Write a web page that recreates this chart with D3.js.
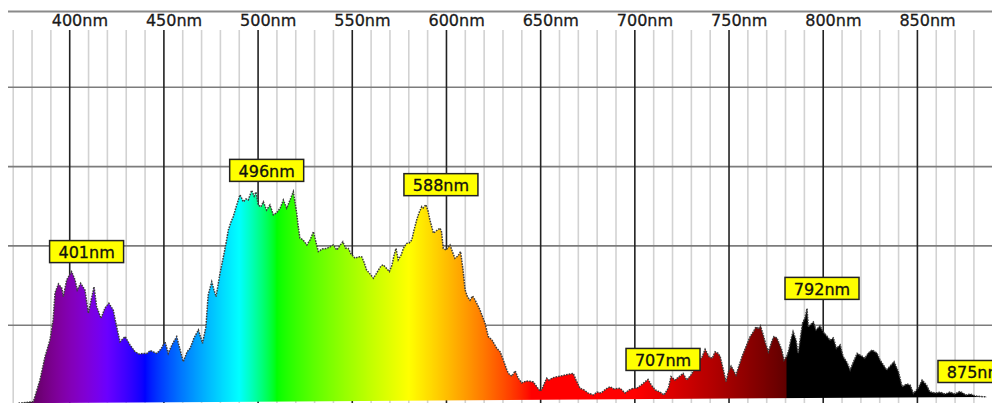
<!DOCTYPE html>
<html><head><meta charset="utf-8">
<script src="https://cdn.jsdelivr.net/npm/d3@7"></script>
<style>html,body{margin:0;padding:0;background:#fff;overflow:hidden}svg{display:block}</style>
</head><body>
<svg id="c" width="992" height="403"></svg>
<script>
// ---- data ----
const wavelengths = [372.8,380.7,384.2,386.9,389.5,391.2,392.2,394.0,395.8,396.6,398.4,401.0,402.8,404.0,405.8,408.1,409.9,412.9,414.3,416.6,418.7,420.8,423.1,424.9,426.7,429.4,432.0,434.7,436.8,439.0,441.0,442.7,444.3,446.2,448.5,450.6,452.3,454.3,456.8,458.6,460.3,462.3,463.9,466.0,468.3,470.5,472.3,473.5,475.4,476.6,477.7,479.8,481.6,483.0,484.2,485.6,486.8,488.5,490.4,492.2,493.6,494.8,496.6,497.9,498.9,500.1,501.5,502.8,504.5,506.3,508.1,509.8,511.7,513.4,515.2,517.0,518.7,520.5,521.2,522.2,523.8,525.9,527.6,529.4,530.8,532.0,534.0,536.4,538.2,539.9,541.8,543.3,545.0,546.4,547.9,549.3,551.5,553.1,555.0,556.2,557.6,559.5,561.2,562.6,563.9,565.3,566.5,568.0,569.7,571.1,572.1,573.2,574.4,575.9,577.2,578.9,580.2,581.6,582.8,584.2,585.4,586.9,587.7,589.1,590.2,591.2,593.1,594.5,596.6,597.4,598.3,599.8,601.9,603.2,604.5,606.1,607.5,608.8,609.9,611.2,612.5,613.9,615.2,616.5,617.8,619.4,620.5,622.2,624.2,626.7,628.5,630.2,632.0,632.9,634.7,636.5,638.1,640.0,642.3,644.4,646.1,648.1,649.7,650.7,653.2,654.4,656.5,658.2,660.3,663.0,665.6,667.3,668.8,670.9,673.0,675.2,678.0,680.0,682.1,684.7,686.8,688.9,692.2,694.8,697.0,699.2,701.2,703.3,707.0,708.9,710.8,713.4,715.5,717.8,719.2,721.3,724.0,725.6,727.6,730.2,731.4,732.9,734.1,735.5,737.3,739.5,741.1,742.6,744.2,745.3,747.0,748.4,749.6,751.1,752.3,753.7,754.9,756.9,759.4,761.2,762.9,764.3,765.6,766.7,767.9,769.4,770.9,772.6,773.8,775.4,776.6,778.0,779.2,780.7,781.7,782.8,784.0,785.6,786.7,787.7,789.0,790.3,791.4,792.1,794.8,796.2,798.3,799.9,801.9,803.6,805.4,807.0,809.0,810.6,812.5,814.3,816.0,818.0,820.4,822.1,823.9,825.9,828.5,830.2,831.9,833.6,835.5,837.6,840.0,841.9,844.4,846.2,847.9,850.5,852.5,854.9,856.6,859.4,862.0,864.7,867.3,869.9,872.6,875.9,878.1,880.7,883.4,886.8,889.6];
const intensities = [0.4,0.9,7.7,15.1,20.3,26.6,35.2,38.0,36.7,34.0,39.3,41.9,39.3,36.1,38.2,36.1,28.8,37.1,30.8,27.2,30.4,31.9,29.8,24.5,19.8,21.4,18.8,16.6,15.9,16.1,16.1,17.0,16.6,16.1,17.5,19.8,16.1,18.8,21.4,17.2,13.5,16.6,17.7,21.0,23.5,19.3,24.5,34.5,38.7,36.1,34.0,41.4,46.6,50.9,55.0,57.5,59.2,62.6,66.1,63.9,64.8,64.5,67.5,65.7,67.0,62.9,62.3,63.9,61.3,62.9,59.8,60.4,61.9,64.5,61.9,64.5,67.1,60.3,56.6,52.5,51.9,50.3,51.9,54.5,50.9,48.2,49.0,49.2,49.7,50.3,48.7,50.0,51.3,49.3,49.2,47.5,46.1,46.5,46.6,44.9,42.4,41.1,39.8,41.1,42.4,43.7,44.0,43.0,41.9,44.0,46.8,49.2,45.6,47.1,49.3,50.8,50.9,51.9,55.0,58.2,60.4,62.4,62.0,63.0,61.0,58.2,54.0,54.7,55.6,54.4,49.2,48.7,50.3,48.1,46.1,46.8,48.2,42.4,36.1,33.9,32.9,34.2,32.9,31.4,29.8,27.3,25.6,21.4,20.3,17.7,16.6,14.0,11.0,9.8,8.9,10.6,8.3,6.8,7.4,7.3,7.1,5.5,4.2,4.9,8.3,7.7,8.4,8.7,8.9,9.3,9.6,9.8,7.7,5.1,4.6,3.6,3.0,3.9,3.6,4.9,5.6,4.9,5.1,3.6,4.6,5.1,5.2,6.1,7.9,6.0,4.6,3.9,3.0,5.2,8.8,7.7,9.0,9.8,7.7,9.6,10.9,12.8,14.0,14.7,17.4,15.0,14.6,16.6,16.1,15.1,10.9,7.2,10.2,12.1,10.9,9.3,11.5,15.1,18.8,21.4,22.9,24.5,23.8,24.8,22.5,19.3,16.6,19.7,21.4,21.0,19.3,17.2,14.0,15.3,17.2,20.3,23.0,20.3,16.1,20.3,25.6,27.3,30.3,24.5,26.0,23.5,24.8,23.0,21.6,20.3,21.0,17.7,18.8,15.1,13.4,10.9,13.4,16.1,15.3,14.6,16.2,17.2,16.2,14.0,12.5,10.9,12.1,13.5,10.2,5.6,6.5,6.1,3.5,5.2,7.7,6.1,4.0,3.6,3.9,3.3,3.9,3.3,4.1,3.0,3.3,2.7,2.5,2.4];
const majorTicks = [400,450,500,550,600,650,700,750,800,850];
const minorTicks = [370,380,390,410,420,430,440,460,470,480,490,510,520,530,540,560,570,580,590,610,620,630,640,660,670,680,690,710,720,730,740,760,770,780,790,810,820,830,840,860,870,880];
const gridValues = [25,50,75,100];
const peakLabels = [401,496,588,707,792,875];

// ---- layout ----
const W = 992, H = 403;
const svg = d3.select("#c");
const d0 = 367.24, d1 = 889.6;
const x = d3.scaleLinear().domain([d0, d1]).range([8, 992]);
const y = d3.scaleLinear().domain([0, 125]).range([404.5, 8]);

// spectrum colour (wavelength -> RGB)
function wl2rgb(w){
  if (w < 380 || w > 780) return "rgb(0,0,0)";
  let r=0,g=0,b=0;
  if (w < 440){ r = -(w-440)/60; b = 1; }
  else if (w < 490){ g = (w-440)/50; b = 1; }
  else if (w < 510){ g = 1; b = -(w-510)/20; }
  else if (w < 580){ r = (w-510)/70; g = 1; }
  else if (w < 645){ r = 1; g = -(w-645)/65; }
  else { r = 1; }
  let f = 1;
  if (w < 420) f = 0.3 + 0.7*(w-380)/40;
  else if (w > 700) f = 0.3 + 0.7*(780-w)/80;
  const c = v => v <= 0 ? 0 : Math.round(255*Math.pow(v*f, 0.8));
  return `rgb(${c(r)},${c(g)},${c(b)})`;
}
const defs = svg.append("defs");
const grad = defs.append("linearGradient").attr("id","spec")
  .attr("gradientUnits","userSpaceOnUse")
  .attr("x1", x(d0)).attr("x2", x(d1)).attr("y1",0).attr("y2",0);
for (let w = 367; w <= 890; w += 1){
  grad.append("stop").attr("offset", Math.max(0,Math.min(1,(w-d0)/(d1-d0))))
    .attr("stop-color", wl2rgb(w));
}

// grid
const gTop = 30;
svg.append("g").selectAll("line").data(minorTicks).join("line")
  .attr("x1", d=>x(d)).attr("x2", d=>x(d)).attr("y1", gTop).attr("y2", H+2)
  .attr("stroke","#d2d2d2").attr("stroke-width",1.6);
svg.append("g").selectAll("line").data(gridValues).join("line")
  .attr("x1", 8).attr("x2", W).attr("y1", d=>y(d)).attr("y2", d=>y(d))
  .attr("stroke","#7c7c7c").attr("stroke-width",1.6);
svg.append("g").selectAll("line").data(majorTicks).join("line")
  .attr("x1", d=>x(d)).attr("x2", d=>x(d)).attr("y1", gTop).attr("y2", H+2)
  .attr("stroke","#222").attr("stroke-width",1.6);
// top border
svg.append("line").attr("x1",8).attr("x2",W).attr("y1",11.5).attr("y2",11.5)
  .attr("stroke","#8a8a8a").attr("stroke-width",2);
// top labels
svg.append("g").selectAll("text").data(majorTicks).join("text")
  .attr("x", d=>x(d)-18).attr("y", 26.3)
  .attr("font-family","DejaVu Sans, Verdana, sans-serif").attr("font-size",16)
  .attr("fill","#1a1a1a").attr("stroke","#1a1a1a").attr("stroke-width",0.3)
  .text(d=>d+"nm");

// spectrum
const pts = wavelengths.map((w,i)=>({w, v:intensities[i]}));
const area = d3.area().x(d=>x(d.w)).y0(y(0)).y1(d=>y(d.v));
const line = d3.line().x(d=>x(d.w)).y(d=>y(d.v));
svg.append("path").datum(pts).attr("d", area).attr("fill","url(#spec)");
svg.append("path").datum(pts).attr("d", line).attr("fill","none")
  .attr("stroke","#3c3c3c").attr("stroke-width",1.5).attr("stroke-dasharray","1.6,1.1");

// peak labels
const lab = svg.append("g");
peakLabels.forEach(nm=>{
  const cand = pts.filter(p=>Math.abs(p.w-nm)<=3);
  const pk = cand.reduce((a,b)=>b.v>a.v?b:a);
  const bx = x(pk.w)-22, by = y(pk.v)-9-22;
  const g = lab.append("g").attr("transform",`translate(${bx},${by})`);
  g.append("rect").attr("width",74).attr("height",22).attr("fill","#ffff00")
    .attr("stroke","#222").attr("stroke-width",1.5);
  g.append("text").attr("x",37).attr("y",17.3).attr("text-anchor","middle")
    .attr("font-family","DejaVu Sans, Verdana, sans-serif").attr("font-size",16)
    .attr("fill","#111").attr("stroke","#111").attr("stroke-width",0.3)
    .text(nm+"nm");
});
</script>
</body></html>
